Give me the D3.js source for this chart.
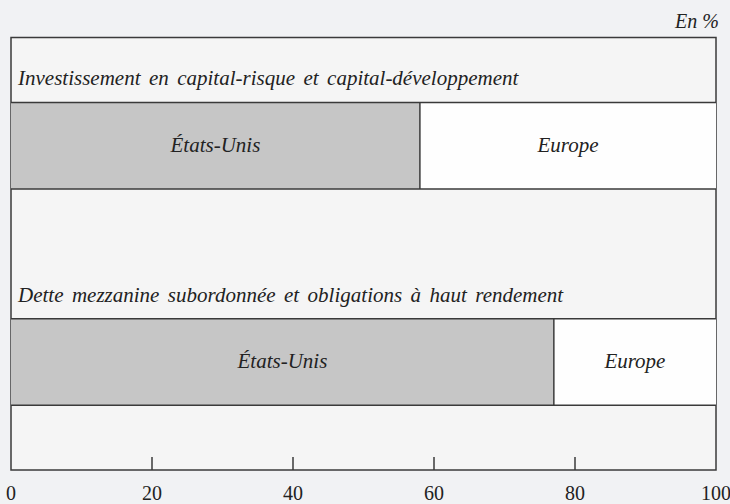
<!DOCTYPE html>
<html>
<head>
<meta charset="utf-8">
<script src="https://cdn.jsdelivr.net/npm/d3@7"></script>
<style>
  body { margin: 0; background: #f1f2f4; }
  svg { display: block; }
</style>
</head>
<body>
<div id="chart"></div>
<script>
// data
const categories = [
  'Investissement en capital-risque et capital-développement',
  'Dette mezzanine subordonnée et obligations à haut rendement'
]
const seriesNames = ['États-Unis', 'Europe']
const usShare = [58, 77]          // part des États-Unis, en %
const europeShare = [42, 23]      // part de l'Europe, en %
const tickValues = [0, 20, 40, 60, 80, 100]

const width = 730
const height = 504
const frame = { left: 11, right: 716, top: 37.5, bottom: 470 }
const serif = "'Liberation Serif'"
const ink = '#222'
const lineCol = '#3a3a3a'

const svg = d3.select('#chart').append('svg')
    .attr('width', width)
    .attr('height', height)

const x = d3.scaleLinear().domain([0, 100]).range([frame.left, frame.right])
const y = d3.scaleBand().domain(categories)
    .range([frame.top, frame.bottom])
    .paddingInner(0.6)
    .paddingOuter(0.3)

// plot frame
svg.append('rect')
    .attr('x', frame.left).attr('y', frame.top)
    .attr('width', frame.right - frame.left)
    .attr('height', frame.bottom - frame.top)
    .attr('fill', '#f5f5f5')
    .attr('stroke', lineCol)
    .attr('stroke-width', 1.5)

// stacked data
const rows = categories.map((c, i) => ({ cat: c, parts: [
  { name: seriesNames[0], x0: 0, x1: usShare[i], fill: '#c6c6c6' },
  { name: seriesNames[1], x0: usShare[i], x1: usShare[i] + europeShare[i], fill: '#fefefe' }
]}))

const g = svg.selectAll('g.row').data(rows).join('g').attr('class', 'row')

g.selectAll('rect').data(d => d.parts.map(p => ({ ...p, cat: d.cat }))).join('rect')
    .attr('x', d => x(d.x0))
    .attr('y', d => y(d.cat))
    .attr('width', d => x(d.x1) - x(d.x0))
    .attr('height', y.bandwidth())
    .attr('fill', d => d.fill)

// horizontal borders of bars + divider
g.each(function(d) {
  const sel = d3.select(this)
  const y0 = y(d.cat), y1 = y(d.cat) + y.bandwidth()
  sel.append('line').attr('x1', x(0)).attr('x2', x(100)).attr('y1', y0).attr('y2', y0)
  sel.append('line').attr('x1', x(0)).attr('x2', x(100)).attr('y1', y1).attr('y2', y1)
  sel.append('line').attr('x1', x(d.parts[0].x1)).attr('x2', x(d.parts[0].x1)).attr('y1', y0).attr('y2', y1)
})
g.selectAll('line').attr('stroke', lineCol).attr('stroke-width', 1.5)

// bar labels
g.selectAll('text.part').data(d => d.parts.map(p => ({ ...p, cat: d.cat }))).join('text')
    .attr('class', 'part')
    .attr('x', d => x((d.x0 + d.x1) / 2))
    .attr('y', d => y(d.cat) + y.bandwidth() / 2 + 6.5)
    .attr('text-anchor', 'middle')
    .attr('fill', ink)
    .style('font-family', serif)
    .style('font-size', '21px')
    .style('font-style', 'italic')
    .text(d => d.name)

// category titles
g.append('text')
    .attr('x', frame.left + 7)
    .attr('y', d => y(d.cat) - 17)
    .attr('fill', ink)
    .style('font-family', serif)
    .style('font-size', '21px')
    .style('font-style', 'italic')
    .style('word-spacing', '3.2px')
    .text(d => d.cat)

// axis ticks (inside frame) and labels
svg.selectAll('line.tick').data(tickValues.slice(1, -1)).join('line')
    .attr('class', 'tick')
    .attr('x1', d => x(d)).attr('x2', d => x(d))
    .attr('y1', frame.bottom - 13).attr('y2', frame.bottom)
    .attr('stroke', lineCol).attr('stroke-width', 1.5)

svg.selectAll('text.tl').data(tickValues).join('text')
    .attr('class', 'tl')
    .attr('x', d => x(d))
    .attr('y', 500)
    .attr('text-anchor', 'middle')
    .attr('fill', ink)
    .style('font-family', serif)
    .style('font-size', '20px')
    .text(d => d)

// unit
svg.append('text')
    .attr('x', 719).attr('y', 28)
    .attr('text-anchor', 'end')
    .attr('fill', ink)
    .style('font-family', serif)
    .style('font-size', '20px')
    .style('font-style', 'italic')
    .text('En %')
</script>
</body>
</html>
